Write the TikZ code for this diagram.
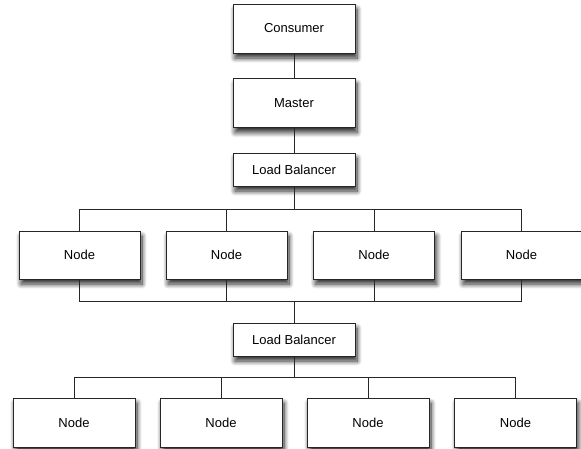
\documentclass[tikz,border=0pt]{standalone}
\usepackage{fontspec}
\setmainfont{Liberation Sans}
\usetikzlibrary{shadows.blur}

\begin{document}
\begin{tikzpicture}[x=1pt, y=-1pt,
	box/.style={draw=black!85, fill=white, line width=0.9pt,
		minimum width=122pt, minimum height=49pt, inner sep=0pt,
		font=\fontsize{13}{15}\selectfont,
		blur shadow={shadow xshift=2pt, shadow yshift=-5pt, shadow blur radius=5pt,
			shadow blur steps=10, shadow opacity=85}},
	lbbox/.style={box, minimum height=33pt},
	link/.style={line width=0.9pt, black!85}]

	% ---- frame

	\useasboundingbox (0,0) rectangle (581,448);

	% ---- top chain

	\node[box] (consumer) at (294,28.5) {Consumer};
	\node[box] (master) at (294,103) {Master};
	\node[lbbox] (lb1) at (294,169.5) {Load Balancer};

	% ---- first row of nodes

	\def\rowa{79.5,226.5,374,521.5}
	\foreach \x [count=\i] in \rowa {
		\node[box, minimum width=121pt, minimum height=48pt] (n\i) at (\x,255) {Node};
	}

	\node[lbbox] (lb2) at (294,339.5) {Load Balancer};

	% ---- second row of nodes

	\def\rowb{74,221,368,515.5}
	\foreach \x [count=\i] in \rowb {
		\node[box] (m\i) at (\x,422.5) {Node};
	}

	% ---- bus coordinates

	\coordinate (bus1) at (294,209);
	\coordinate (bus2) at (294,301);
	\coordinate (bus3) at (294,377);

	% ---- links

	\draw[link] (consumer) -- (master);
	\draw[link] (master) -- (lb1);

	\foreach \i in {1,...,4} {
		\draw[link] (lb1.south) -- (bus1) -| (n\i.north);
		\draw[link] (n\i.south) |- (bus2) -- (lb2.north);
		\draw[link] (lb2.south) -- (bus3) -| (m\i.north);
	}

\end{tikzpicture}
\end{document}
